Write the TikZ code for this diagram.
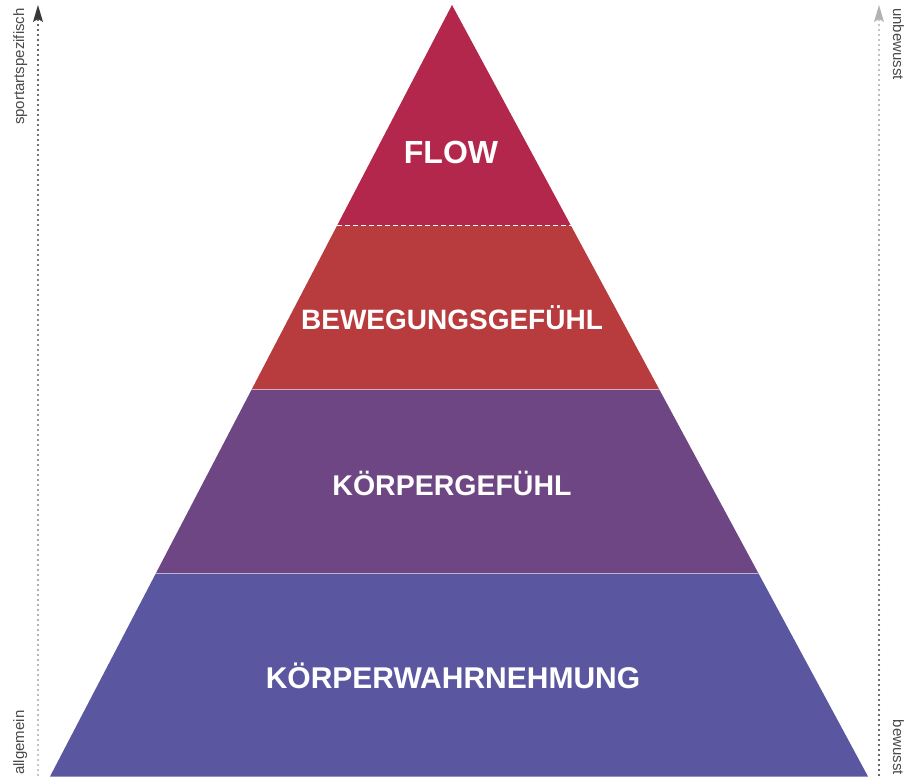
\documentclass[tikz,border=0pt]{standalone}
\usepackage{fontspec}
\setmainfont{Liberation Sans}
\usetikzlibrary{calc}

\definecolor{layerflow}{HTML}{B4274C}
\definecolor{layermove}{HTML}{B83C3E}
\definecolor{layerbody}{HTML}{6E4683}
\definecolor{layerperc}{HTML}{5A57A0}
\definecolor{axistext}{HTML}{4A4A4A}

\tikzset{
  layerlabel/.style={text=white, inner sep=0pt,
    font=\fontsize{#1}{#1}\selectfont\bfseries},
  layerlabel/.default=29,
  axislabel/.style={text=axistext, inner sep=0pt,
    font=\fontsize{15}{15}\selectfont},
  seam/.style={white, opacity=0.45, line width=0.7pt},
  topseam/.style={white, line width=1pt, dash pattern=on 5pt off 3pt},
}

\begin{document}
\begin{tikzpicture}[x=1pt, y=1pt]
  \useasboundingbox (0,0) rectangle (905,777);

  % pyramid corners and layer boundaries
  \coordinate (apex) at (452,772);
  \coordinate (bl) at (50,0.5);
  \coordinate (br) at (868,0.5);
  \coordinate (l1) at ($(bl)!0.2633!(apex)$);
  \coordinate (r1) at ($(br)!0.2633!(apex)$);
  \coordinate (l2) at ($(bl)!0.5019!(apex)$);
  \coordinate (r2) at ($(br)!0.5019!(apex)$);
  \coordinate (l3) at ($(bl)!0.7147!(apex)$);
  \coordinate (r3) at ($(br)!0.7147!(apex)$);

  % layers
  \fill[layerperc] (bl) -- (br) -- (r1) -- (l1) -- cycle;
  \fill[layerbody] (l1) -- (r1) -- (r2) -- (l2) -- cycle;
  \fill[layermove] (l2) -- (r2) -- (r3) -- (l3) -- cycle;
  \fill[layerflow] (l3) -- (r3) -- (apex) -- cycle;
  \draw[seam] (l1) -- (r1);
  \draw[seam] (l2) -- (r2);
  \draw[topseam] (l3) -- (r3);

  % layer labels
  \node[layerlabel=32] (flow) at (451,625) {FLOW};
  \node[layerlabel=28] (move) at (452,459) {BEWEGUNGSGEFÜHL};
  \node[layerlabel=28.5] (body) at (452,294) {KÖRPERGEFÜHL};
  \node[layerlabel=30] (perc) at (453,101) {KÖRPERWAHRNEHMUNG};

  % left axis: dotted, dark at the top, fading downwards
  \coordinate (lbot) at (38,2);
  \coordinate (ltop) at (38,757);
  \coordinate (ltip) at (38,772);
  \foreach \i in {0,...,151} {
    \pgfmathsetmacro\t{\i/151}
    \pgfmathsetmacro\p{30+52*\t}
    \fill[black!\p] ($(lbot)!\t!(ltop)$) circle (1.2);
  }
  \fill[black!78] (ltip) -- ++(-5,-17) -- ++(5,3) -- ++(5,-3) -- cycle;

  % right axis: dotted, light at the top, darkening downwards
  \coordinate (rbot) at (879,2);
  \coordinate (rtop) at (879,757);
  \coordinate (rtip) at (879,772);
  \foreach \i in {0,...,151} {
    \pgfmathsetmacro\t{\i/151}
    \pgfmathsetmacro\p{82-52*\t}
    \fill[black!\p] ($(rbot)!\t!(rtop)$) circle (1.2);
  }
  \fill[black!30] (rtip) -- ++(-5,-17) -- ++(5,3) -- ++(5,-3) -- cycle;

  % axis labels
  \node[axislabel, rotate=90, anchor=base east] (specific) at (24,769) {sportartspezifisch};
  \node[axislabel, rotate=90, anchor=base west] (general) at (24,2) {allgemein};
  \node[axislabel, rotate=-90, anchor=base west] (unconscious) at (893,769) {unbewusst};
  \node[axislabel, rotate=-90, anchor=base east] (conscious) at (893,2) {bewusst};
\end{tikzpicture}
\end{document}
